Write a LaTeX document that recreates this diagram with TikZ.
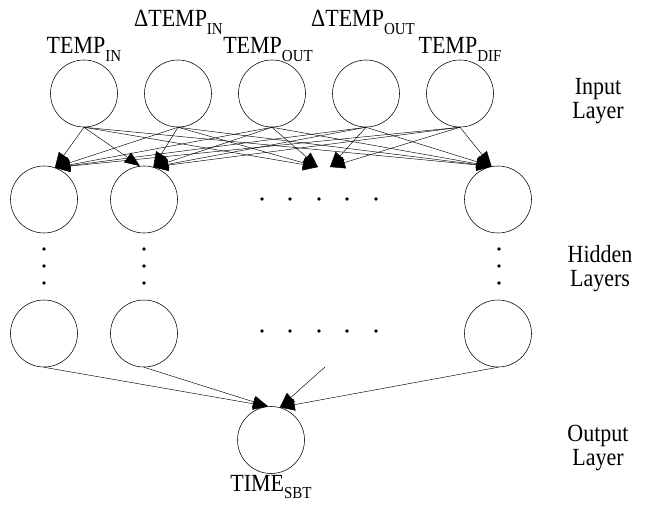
\documentclass[tikz,border=0pt]{standalone}
\usepackage{fontspec}
\setmainfont{Liberation Serif}
\usetikzlibrary{arrows.meta}
\newcommand{\lsub}[1]{\raisebox{-7pt}{\fontsize{15}{15}\selectfont #1}}
\newcommand{\tall}[1]{\scalebox{1}[1.12]{#1}}
\begin{document}
\begin{tikzpicture}[x=1pt,y=-1pt,
        neuron/.style={circle,draw,line width=0.55pt,minimum size=67pt,inner sep=0pt},
        lbl/.style={font=\fontsize{22}{23}\selectfont,inner sep=0pt,anchor=base},
        layer/.style={font=\fontsize{22}{24}\selectfont,inner sep=0pt,anchor=north,align=center},
        conn/.style={-{Triangle[length=15pt,width=12pt]},line width=0.45pt}]
                        \useasboundingbox (0,0) rectangle (645,505);

                        % input layer
                        \node[neuron] (i1) at (84,93.5) {};
                        \node[neuron] (i2) at (178,93.5) {};
                        \node[neuron] (i3) at (272,93.5) {};
                        \node[neuron] (i4) at (366,93.5) {};
                        \node[neuron] (i5) at (460,93.5) {};
                        \node[lbl] (l1) at (84,54) {\tall{TEMP\lsub{IN}}};
                        \node[lbl] (l2) at (178.5,27) {\tall{ΔTEMP\lsub{IN}}};
                        \node[lbl] (l3) at (268,54) {\tall{TEMP\lsub{OUT}}};
                        \node[lbl] (l4) at (363,27) {\tall{ΔTEMP\lsub{OUT}}};
                        \node[lbl] (l5) at (460,54) {\tall{TEMP\lsub{DIF}}};

                        % hidden layers
                        \node[neuron] (h1) at (44,199.5) {};
                        \node[neuron] (h2) at (144,199.5) {};
                        \node[neuron] (h4) at (498,199.5) {};
                        \node[neuron] (g1) at (44,333.5) {};
                        \node[neuron] (g2) at (144,333.5) {};
                        \node[neuron] (g4) at (498,333.5) {};
                        \foreach \x in {262,290,319,347,376} {
                            \fill (\x,199) circle[radius=1.9pt];
                            \fill (\x,331) circle[radius=1.9pt];
                        }
                        \foreach \x in {44,144,499}
                            \foreach \y in {249,266,283}
                                \fill (\x,\y) circle[radius=1.9pt];
                        \coordinate (ma) at (318,167);
                        \coordinate (mb) at (330,167);
                        \coordinate (mc) at (325,367);

                        % output layer
                        \node[neuron] (o) at (271,440) {};
                        \node[lbl] (lo) at (271,491) {\tall{TIME\lsub{SBT}}};

                        \node[layer] (li) at (598,78) {\tall{Input}\\\tall{Layer}};
                        \node[layer] (lh) at (600,245) {\tall{Hidden}\\\tall{Layers}};
                        \node[layer] (lt) at (598,425) {\tall{Output}\\\tall{Layer}};

                        % connections
                        \foreach \i in {1,...,5} {
                            \draw[conn] (i\i.south) -- (h1.71);
                            \draw[conn] (i\i.south) -- (h4.101);
                        }
                        \draw[conn] (i1.south) -- (h2.97);
                        \foreach \i in {2,...,5} \draw[conn] (i\i.south) -- (h2.74);
                        \foreach \i in {1,2,3} \draw[conn] (i\i.south) -- (ma);
                        \foreach \i in {4,5} \draw[conn] (i\i.south) -- (mb);
                        \draw[conn] (g1.south) -- (o.95);
                        \draw[conn] (g2.south) -- (o.95);
                        \draw[conn] (mc) -- (o.75);
                        \draw[conn] (g4.south) -- (o.75);
                    \end{tikzpicture}
\end{document}
